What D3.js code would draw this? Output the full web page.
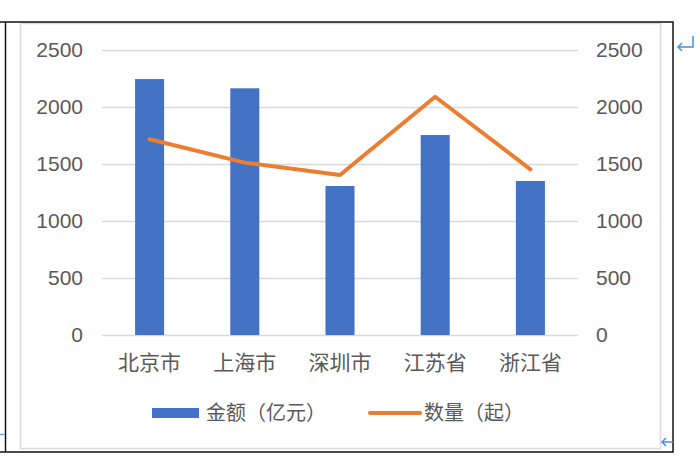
<!DOCTYPE html>
<html><head><meta charset="utf-8">
<script src="https://cdn.jsdelivr.net/npm/d3@7"></script>
<style>body{margin:0;background:#fff;}svg{display:block;}</style>
</head><body>
<script>
const categories = ["北京市","上海市","深圳市","江苏省","浙江省"];
const amounts = [2245, 2164, 1307, 1754, 1351];
const counts = [1717, 1512, 1404, 2090, 1453];
const tickValues = [0, 500, 1000, 1500, 2000, 2500];
const seriesNames = ["金额（亿元）", "数量（起）"];

const W = 700, H = 464;
const svg = d3.select("body").append("svg").attr("width", W).attr("height", H);
const font = "'Noto Sans CJK SC', 'Noto Sans', sans-serif";
const numFont = "'Liberation Sans', Arial, sans-serif";

// frames
svg.append("rect").attr("x", 20.5).attr("y", 23.5).attr("width", 640).attr("height", 425)
  .attr("fill", "#fff").attr("stroke", "#d9d9d9").attr("stroke-width", 1.5);
svg.append("path").attr("d", "M0,22 H673 V452 H0 M5.5,22 V452").attr("fill", "none")
  .attr("stroke", "#111").attr("stroke-width", 1.5);
svg.append("line").attr("x1", 0).attr("x2", 5).attr("y1", 434.5).attr("y2", 434.5)
  .attr("stroke", "#6fa8dc").attr("stroke-width", 1.5);
// marker glyphs
svg.append("path").attr("d", "M693,36 V47 H678 M682,43 L678,47 L682,51").attr("fill", "none")
  .attr("stroke", "#4a90e2").attr("stroke-width", 1.5);
svg.append("path").attr("d", "M673,442 H662 M666,438 L662,442 L666,446").attr("fill", "none")
  .attr("stroke", "#4a90e2").attr("stroke-width", 1.5);

const x = d3.scaleBand().domain(categories).range([102, 578]).paddingInner(0.695).paddingOuter(0.3475);
const y = d3.scaleLinear().domain([0, 2500]).range([335, 50]);
const y2 = d3.scaleLinear().domain([0, 2500]).range([335, 50]);

// gridlines
svg.append("g").selectAll("line").data(tickValues).join("line")
  .attr("x1", 102).attr("x2", 578)
  .attr("y1", d => Math.round(y(d)) + 0.5).attr("y2", d => Math.round(y(d)) + 0.5)
  .attr("stroke", "#d9d9d9").attr("stroke-width", 1.5);

// axes
const gl = svg.append("g").attr("transform", "translate(102,0)")
  .call(d3.axisLeft(y).tickValues(tickValues).tickFormat(d3.format("d")).tickSize(0).tickPadding(19));
const gr = svg.append("g").attr("transform", "translate(578,0)")
  .call(d3.axisRight(y2).tickValues(tickValues).tickFormat(d3.format("d")).tickSize(0).tickPadding(18));
const gb = svg.append("g").attr("transform", "translate(0,335)")
  .call(d3.axisBottom(x).tickSize(0).tickPadding(20));
[gl, gr].forEach(g => {
  g.select(".domain").remove();
  g.selectAll("text").attr("font-family", numFont).attr("font-size", 21).attr("fill", "#595959");
});
gb.select(".domain").remove();
gb.selectAll("text").attr("font-family", font).attr("font-size", 21).attr("fill", "#595959");

// bars
svg.append("g").selectAll("rect").data(amounts).join("rect")
  .attr("x", (d, i) => x(categories[i]))
  .attr("width", x.bandwidth())
  .attr("y", d => y(d))
  .attr("height", d => y(0) - y(d))
  .attr("fill", "#4472C4");

// line
const line = d3.line()
  .x((d, i) => x(categories[i]) + x.bandwidth() / 2)
  .y(d => y2(d));
svg.append("path").datum(counts).attr("d", line).attr("fill", "none")
  .attr("stroke", "#ED7D31").attr("stroke-width", 4).attr("stroke-linejoin", "round").attr("stroke-linecap", "round");

// legend (full-width characters laid out one em each)
function legendText(x0, str) {
  const t = svg.append("text").attr("y", 413).attr("dy", "0.35em")
    .attr("font-family", font).attr("font-size", 20).attr("fill", "#595959");
  t.selectAll("tspan").data(Array.from(str)).join("tspan")
    .attr("x", (d, i) => x0 + i * 20).text(d => d);
}
svg.append("rect").attr("x", 152).attr("y", 408).attr("width", 47).attr("height", 10).attr("fill", "#4472C4");
legendText(206, seriesNames[0]);
svg.append("line").attr("x1", 370).attr("x2", 420).attr("y1", 413).attr("y2", 413)
  .attr("stroke", "#ED7D31").attr("stroke-width", 4).attr("stroke-linecap", "round");
legendText(424, seriesNames[1]);
</script>
</body></html>
